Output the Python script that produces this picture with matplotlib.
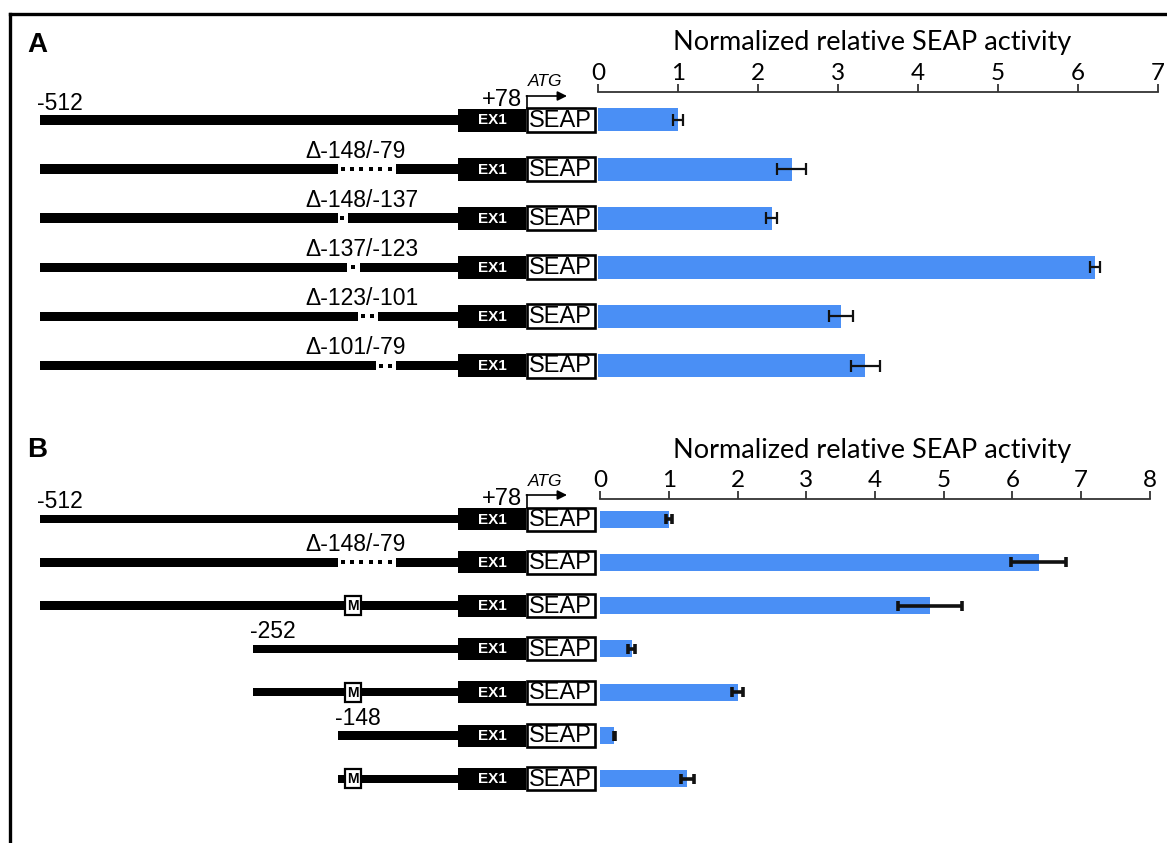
import matplotlib.pyplot as plt
from matplotlib.patches import Rectangle

# Panel A: 5' deletion constructs
a_starts = [-512, -512, -512, -512, -512, -512]
a_labels = ['', 'Δ-148/-79', 'Δ-148/-137', 'Δ-137/-123', 'Δ-123/-101', 'Δ-101/-79']
a_deletions = [None, (-148, -79), (-148, -137), (-137, -123), (-123, -101), (-101, -79)]
a_mutant = [False] * 6
a_activity = [1.0, 2.42, 2.17, 6.21, 3.04, 3.34]
a_error = [0.065, 0.18, 0.065, 0.06, 0.15, 0.18]
a_ticks = [0, 1, 2, 3, 4, 5, 6, 7]

# Panel B: truncations and site mutants
b_starts = [-512, -512, -512, -252, -252, -148, -148]
b_labels = ['', 'Δ-148/-79', '', '', '', '', '']
b_deletions = [None, (-148, -79), None, None, None, None, None]
b_mutant = [False, False, True, False, True, False, True]
b_activity = [1.0, 6.38, 4.80, 0.46, 2.0, 0.21, 1.27]
b_error = [0.04, 0.40, 0.47, 0.05, 0.08, 0.01, 0.09]
b_ticks = [0, 1, 2, 3, 4, 5, 6, 7, 8]

mut_site = -130
W, H = 1167, 843
BLUE = '#4a8ff5'
SANS = ['Liberation Sans', 'DejaVu Sans']
CAL = ['Lato', 'DejaVu Sans']


def bp(p):
    # promoter coordinate -> pixel x
    return 459 + 0.8187 * p


fig = plt.figure(figsize=(W / 100, H / 100), dpi=100)
ov = fig.add_axes([0, 0, 1, 1])
ov.set_xlim(0, W)
ov.set_ylim(H, 0)
ov.axis('off')

# frame
ov.plot([10, W], [14, 14], color='k', lw=2.4, solid_capstyle='projecting')
ov.plot([10, 10], [14, H], color='k', lw=2.4, solid_capstyle='projecting')


def construct(y, start, deletion, label, mutant, show_start, line_h, box_h):
    x_end = 458
    if deletion is None:
        ov.add_patch(Rectangle((bp(start), y - line_h / 2), x_end - bp(start), line_h,
                               color='k', lw=0))
    else:
        a, b = bp(deletion[0]), bp(deletion[1])
        ov.add_patch(Rectangle((bp(start), y - line_h / 2), a - bp(start), line_h,
                               color='k', lw=0))
        ov.add_patch(Rectangle((b + 1.5, y - line_h / 2), x_end - b - 1.5, line_h,
                               color='k', lw=0))
        n = max(1, round((b - a) / 9.5))
        step = (b - a) / n
        xs = [a + (i + 0.5) * step for i in range(n)]
        ov.plot(xs, [y] * n, 's', color='k', ms=2.6, mew=0)
    if label:
        ov.text(305, y - 18, label, fontsize=16.5, family=SANS, ha='left', va='center')
    if show_start:
        ov.text(bp(start) - 3, y - 17, '%d' % start, fontsize=16.5, family=SANS,
                ha='left', va='center')
    if mutant:
        mx = bp(mut_site)
        ov.add_patch(Rectangle((mx - 8, y - 9.5), 16, 19, facecolor='white',
                               edgecolor='k', lw=1.6, zorder=3))
        ov.text(mx, y + 0.5, 'M', fontsize=10, fontweight='bold', family=SANS,
                ha='center', va='center', zorder=4)
    # exon 1 and reporter
    ov.add_patch(Rectangle((458, y - box_h / 2), 68, box_h, color='k', lw=0))
    ov.text(492, y + 0.5, 'EX1', color='white', fontsize=11, fontweight='bold',
            family=SANS, ha='center', va='center')
    ov.add_patch(Rectangle((527, y - box_h / 2 - 0.5), 67.5, box_h + 1, facecolor='white',
                           edgecolor='k', lw=1.9))
    ov.text(560.5, y + 1, 'SEAP', fontsize=17, family=SANS, ha='center', va='center')


def header(y):
    ov.text(522, y - 20, '+78', fontsize=17, family=SANS, ha='right', va='center')
    ov.plot([527, 527], [y - 11, y - 24], color='k', lw=1.2)
    ov.annotate('', xy=(567, y - 24), xytext=(526.4, y - 24),
                arrowprops=dict(arrowstyle='-|>', lw=1.2, color='k',
                                mutation_scale=14, shrinkA=0, shrinkB=0))
    ov.text(545, y - 38, 'ATG', fontsize=12.5, style='italic', family=SANS,
            ha='center', va='center')


def panel(letter, letter_y, y0, dy, starts, deletions, labels, mutants,
          line_h, box_h, bar_h, vals, errs, ticks, ax_x0, ax_x1, ax_top, ax_bot,
          elw, cap, title_y):
    ov.text(27, letter_y, letter, fontsize=20, fontweight='bold', family=SANS,
            ha='left', va='center')
    rows = [y0 + dy * i for i in range(len(vals))]
    seen = set()
    for i, y in enumerate(rows):
        show = starts[i] not in seen
        seen.add(starts[i])
        construct(y, starts[i], deletions[i], labels[i], mutants[i], show, line_h, box_h)
    header(rows[0])

    ax = fig.add_axes([ax_x0 / W, 1 - ax_bot / H, (ax_x1 - ax_x0) / W, (ax_bot - ax_top) / H])
    idx = list(range(len(vals)))
    ax.barh(idx, vals, height=bar_h / dy, color=BLUE, xerr=errs,
            error_kw=dict(ecolor='#111111', elinewidth=elw, capsize=cap, capthick=elw))
    ax.set_xlim(ticks[0], ticks[-1])
    ax.set_ylim((ax_bot - y0) / dy, (ax_top - y0) / dy)
    ax.set_xticks(ticks)
    ax.xaxis.tick_top()
    ax.xaxis.set_label_position('top')
    ax.set_xlabel('Normalized relative SEAP activity', fontsize=19.5, family=CAL)
    ax.xaxis.label.set_va('center')
    ax.xaxis.set_label_coords((872 - ax_x0) / (ax_x1 - ax_x0),
                              1 + (ax_top - title_y) / (ax_bot - ax_top))
    ax.tick_params(axis='x', direction='out', length=6, width=1.3, color='#333333',
                   labelsize=17.5, pad=-0.5)
    for t in ax.get_xticklabels():
        t.set_family(CAL)
    ax.set_yticks([])
    for s in ['left', 'right', 'bottom']:
        ax.spines[s].set_visible(False)
    ax.spines['top'].set_linewidth(1.3)
    ax.spines['top'].set_color('#333333')
    ax.patch.set_alpha(0)
    return ax


panel('A', 45, 120, 49.1, a_starts, a_deletions, a_labels, a_mutant, 9.5, 23, 23,
      a_activity, a_error, a_ticks, 598, 1158, 92, 395, 1.6, 4.2, 43)
panel('B', 450, 519, 43.3, b_starts, b_deletions, b_labels, b_mutant, 8.5, 22, 17,
      b_activity, b_error, b_ticks, 600, 1150, 499, 800, 2.6, 3.4, 450)

fig.savefig('out.png', dpi=100)
